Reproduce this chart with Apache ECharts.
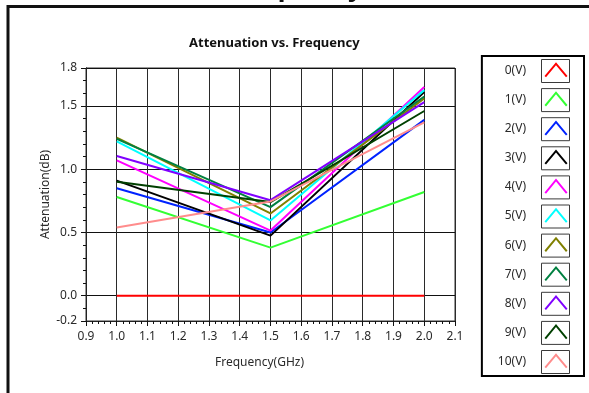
<!DOCTYPE html>
<html>
<head>
<meta charset="utf-8">
<script src="https://cdn.jsdelivr.net/npm/echarts@6/dist/echarts.min.js"></script>
<style>
html, body { margin: 0; padding: 0; background: #fff; }
#main { width: 589px; height: 393px; }
</style>
</head>
<body>
<div id="main"></div>
<script>
// frequencies (GHz)
var freqs = [1.0, 1.5, 2.0];
var seriesNames = ['0(V)', '1(V)', '2(V)', '3(V)', '4(V)', '5(V)', '6(V)', '7(V)', '8(V)', '9(V)', '10(V)'];
// attenuation (dB) per bias voltage
var v0 = [0.00, 0.00, 0.00];
var v1 = [0.78, 0.38, 0.82];
var v2 = [0.85, 0.50, 1.39];
var v3 = [0.91, 0.475, 1.61];
var v4 = [1.07, 0.515, 1.65];
var v5 = [1.22, 0.595, 1.625];
var v6 = [1.25, 0.65, 1.56];
var v7 = [1.24, 0.70, 1.575];
var v8 = [1.105, 0.755, 1.53];
var v9 = [0.90, 0.74, 1.46];
var v10 = [0.54, 0.745, 1.37];
var yTickLabels = [-0.2, 0.0, 0.5, 1.0, 1.5, 1.8];

var colors = ['#ff0000', '#33ff33', '#0022ff', '#000000', '#ff00ff', '#00ffff',
    '#808000', '#008040', '#8000ff', '#004000', '#ff8c8c'];
var allValues = [v0, v1, v2, v3, v4, v5, v6, v7, v8, v9, v10];

var font = 'Noto Sans';
var txtColor = '#2a2a2a';
// chevron icon, with tiny corner points so the box keeps its size
var chevron = 'path://M0,0L0.01,0L0,0.01Z M28,23L27.99,23L28,22.99Z ' +
    'M2.5,17L14,3.2L25.5,17L24,18.3L14,6.2L4,18.3Z';

function isLabelTick(v) {
    for (var i = 0; i < yTickLabels.length; i++) {
        if (Math.abs(yTickLabels[i] - v) < 1e-6) {
            return true;
        }
    }
    return false;
}

var chart = echarts.init(document.getElementById('main'));

var series = [];
for (var i = 0; i < allValues.length; i++) {
    var data = [];
    for (var j = 0; j < freqs.length; j++) {
        data.push([freqs[j], allValues[i][j]]);
    }
    series.push({
        name : seriesNames[i],
        type : 'line',
        data : data,
        showSymbol : false,
        symbol : 'none',
        color : colors[i],
        itemStyle : { color : colors[i] },
        lineStyle : { color : colors[i], width : 2 },
        emphasis : { disabled : true },
        z : 3
    });
}

var graphics = [{
    type : 'polyline',
    shape : { points : [ [ 8, 393 ], [ 8, 6.5 ], [ 589, 6.5 ] ] },
    style : { stroke : '#111', lineWidth : 3, fill : null },
    z : 100
}, {
    // big page title, cut off by the top edge
    type : 'text',
    left : 228,
    top : -24,
    style : { text : 'Frequency', font : 'bold 26px "Noto Sans"', fill : '#111' },
    z : 99
}];
for (var k = 0; k < seriesNames.length; k++) {
    graphics.push({
        type : 'rect',
        shape : { x : 541.5, y : 59.5 + k * 29.1, width : 28, height : 23 },
        style : { stroke : '#3a3a3a', lineWidth : 1, fill : null },
        z : 100
    });
}

var option = {
    animation : false,
    backgroundColor : '#fff',
    title : {
        text : 'Attenuation vs. Frequency',
        left : 189,
        top : 37,
        padding : 0,
        textStyle : { fontFamily : font, fontSize : 13, fontWeight : 'bold', color : '#111' }
    },
    legend : {
        orient : 'vertical',
        right : 5,
        top : 56,
        align : 'right',
        padding : [ 3, 14, 3, 16 ],
        itemWidth : 28,
        itemHeight : 23,
        itemGap : 6.1,
        icon : chevron,
        itemStyle : { borderWidth : 0 },
        backgroundColor : '#fff',
        borderColor : '#000',
        borderWidth : 2,
        selectedMode : false,
        textStyle : { fontFamily : font, fontSize : 12, color : txtColor, padding : [ 0, 11, 0, 0 ] },
        data : seriesNames
    },
    grid : {
        left : 86,
        right : 134,
        top : 68,
        bottom : 72,
        show : true,
        borderColor : '#333',
        borderWidth : 1
    },
    xAxis : {
        type : 'value',
        min : 0.9,
        max : 2.1,
        interval : 0.1,
        name : 'Frequency(GHz)',
        nameLocation : 'middle',
        nameGap : 36,
        nameMoveOverlap : false,
        nameTextStyle : { fontFamily : font, fontSize : 12, color : txtColor, padding : [ 0, 22, 0, 0 ] },
        axisLine : { show : true, onZero : false, lineStyle : { color : '#222' } },
        axisTick : { show : true, length : 5, lineStyle : { color : '#111' } },
        minorTick : { show : true, splitNumber : 5, length : 3, lineStyle : { color : '#111' } },
        axisLabel : {
            margin : 10,
            fontFamily : font,
            fontSize : 12,
            color : txtColor,
            formatter : function(v) {
                return v.toFixed(1);
            }
        },
        splitLine : { show : true, lineStyle : { color : '#2a2a2a', width : 1 } }
    },
    yAxis : [ {
        type : 'value',
        position : 'left',
        min : -0.2,
        max : 1.8,
        interval : 0.1,
        name : 'Attenuation(dB)',
        nameLocation : 'middle',
        nameGap : 34,
        nameMoveOverlap : false,
        nameTextStyle : { fontFamily : font, fontSize : 12, color : txtColor },
        axisLine : { show : true, onZero : false, lineStyle : { color : '#222' } },
        axisTick : { show : true, length : 3, lineStyle : { color : '#111' } },
        axisLabel : {
            margin : 9,
            fontFamily : font,
            fontSize : 12,
            color : txtColor,
            showMinLabel : true,
            showMaxLabel : true,
            hideOverlap : false,
            interval : 0,
            formatter : function(v) {
                return isLabelTick(v) ? v.toFixed(1) : '';
            }
        },
        splitLine : { show : false }
    }, {
        type : 'value',
        position : 'left',
        offset : 0,
        min : -0.2,
        max : 1.8,
        axisLine : { show : true, onZero : false, lineStyle : { color : '#222' } },
        axisTick : { show : true, length : 5, customValues : yTickLabels, lineStyle : { color : '#111' } },
        axisLabel : { show : false, customValues : yTickLabels },
        splitLine : { show : true, lineStyle : { color : '#111', width : 1 } }
    } ],
    graphic : graphics,
    series : series
};
chart.setOption(option);
</script>
</body>
</html>
